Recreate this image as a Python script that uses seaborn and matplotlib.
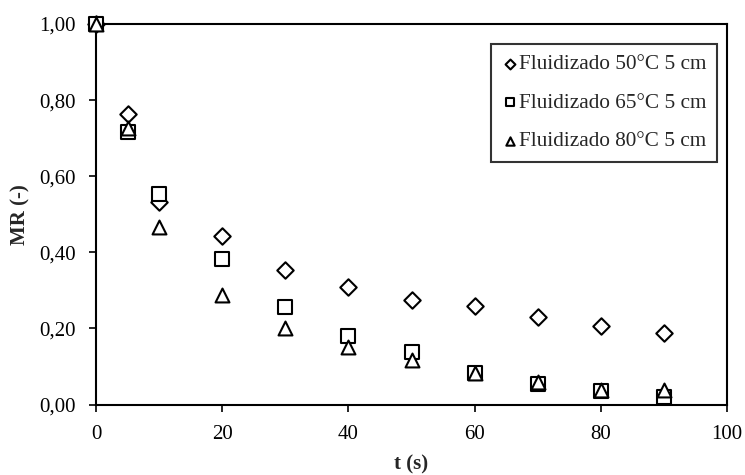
import matplotlib
matplotlib.use("Agg")
import matplotlib.pyplot as plt
import matplotlib.ticker as mticker
import seaborn as sns
import pandas as pd

# Drying time (s)
t = [0, 5, 10, 20, 30, 40, 50, 60, 70, 80, 90]

# Moisture ratio for each fluidized-bed drying condition
mr_50 = [1.00, 0.763, 0.532, 0.442, 0.354, 0.309, 0.275, 0.258, 0.229, 0.205, 0.187]
mr_65 = [1.00, 0.715, 0.553, 0.383, 0.256, 0.181, 0.139, 0.083, 0.054, 0.036, 0.020]
mr_80 = [1.00, 0.726, 0.466, 0.287, 0.201, 0.151, 0.118, 0.083, 0.059, 0.039, 0.039]

labels = ["Fluidizado 50°C 5 cm", "Fluidizado 65°C 5 cm", "Fluidizado 80°C 5 cm"]
x_ticks = [0, 20, 40, 60, 80, 100]
y_ticks = [0.0, 0.2, 0.4, 0.6, 0.8, 1.0]

df = pd.concat([
    pd.DataFrame({"t": t, "MR": mr_50, "serie": labels[0]}),
    pd.DataFrame({"t": t, "MR": mr_65, "serie": labels[1]}),
    pd.DataFrame({"t": t, "MR": mr_80, "serie": labels[2]}),
])

sns.set_style("ticks")
plt.rcParams["font.family"] = ["Liberation Serif", "DejaVu Serif"]

fig = plt.figure(figsize=(7.45, 4.75), dpi=100)
ax = fig.add_axes([96 / 745, 1 - 404.5 / 475, (727 - 96) / 745, (404.5 - 24) / 475])

markers = {labels[0]: "D", labels[1]: "s", labels[2]: "^"}
sizes = {labels[0]: 70, labels[1]: 110, labels[2]: 100}

for lab in labels:
    sub = df[df["serie"] == lab]
    sns.scatterplot(data=sub, x="t", y="MR", marker=markers[lab], s=sizes[lab],
                    facecolor="white", edgecolor="black", linewidth=1.5,
                    clip_on=False, zorder=3, label=lab, ax=ax)

ax.set_xlim(0, 100)
ax.set_ylim(0, 1.0)
ax.set_xticks(x_ticks)
ax.set_yticks(y_ticks)
ax.yaxis.set_major_formatter(mticker.FuncFormatter(lambda v, p: f"{v:.2f}".replace(".", ",")))
ax.tick_params(axis="both", direction="out", length=5, width=1.2, labelsize=15,
               colors="black", pad=9.5)
for side in ["left", "right", "top", "bottom"]:
    ax.spines[side].set_visible(True)
    ax.spines[side].set_color("black")
    ax.spines[side].set_linewidth(1.5)

ax.set_xlabel("t (s)", fontsize=15, fontweight="bold", labelpad=8)
ax.set_ylabel("MR (-)", fontsize=15, fontweight="bold", labelpad=6)

leg = ax.legend(loc="upper right", bbox_to_anchor=(0.9845, 0.948), frameon=True,
                fancybox=False, edgecolor="black", fontsize=15.3, markerscale=0.6,
                handlelength=0.7, handletextpad=0.1, borderpad=0.5,
                labelspacing=0.88, borderaxespad=0)
leg.get_frame().set_linewidth(1.5)

fig.savefig("out.png", dpi=100, facecolor="white")
